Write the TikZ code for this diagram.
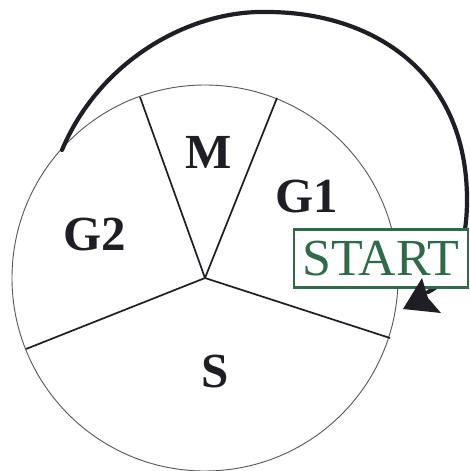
\documentclass[tikz,border=0pt]{standalone}
\usepackage{fontspec}
\setmainfont{Liberation Serif}
\definecolor{startgreen}{HTML}{2F6A4A}
\definecolor{ink}{HTML}{1E1E24}
\begin{document}
\begin{tikzpicture}[x=1pt,y=-1pt,
  rim/.style={draw=ink!75, line width=0.9pt},
  spoke/.style={draw=ink, line width=1.7pt},
  lab/.style={text=ink, font=\bfseries\fontsize{49}{53}\selectfont, inner sep=0pt},
  loop/.style={draw=ink, line width=4.2pt, line cap=round},
  startbox/.style={draw=startgreen, line width=2.8pt, fill=white, text=startgreen,
     font=\fontsize{52}{56}\selectfont, inner sep=0pt, minimum width=174pt, minimum height=58pt},
]
\useasboundingbox (0,0) rectangle (470,471);
\fill[white] (0,0) rectangle (470,471);
% wheel
\coordinate (c) at (205,278);
\node[circle, rim, minimum size=386pt, inner sep=0pt] (wheel) at (c) {};
\coordinate (pTL) at (140,97);
\coordinate (pTR) at (277,98);
\coordinate (pBL) at (26,349);
\coordinate (pBR) at (390,338);
\draw[spoke] (c) -- (pTL);
\draw[spoke] (c) -- (pTR);
\draw[spoke] (c) -- (pBL);
\draw[spoke] (c) -- (pBR);
% labels
\node[lab] (M)  at (209,152) {M};
\node[lab] (G1) at (307,197) {G1};
\node[lab] (G2) at (95,235) {G2};
\node[lab] (S)  at (215,372) {S};
% loop arrow
\coordinate (arcstart) at (62,150);
\coordinate (arctop) at (267,12);
\coordinate (arcright) at (467,200);
\coordinate (arcend) at (428,292);
\draw[loop] (arcstart) .. controls (100,60) and (190,10) .. (arctop)
  .. controls (370,12) and (467,70) .. (arcright)
  .. controls (467,250) and (452,280) .. (arcend);
% start box
\node[startbox] (start) at (381,258.5) {START};
% arrowhead
\coordinate (tip) at (403,309);
\fill[ink] (tip) -- (422,278) -- (428,298) -- (441,313) -- cycle;
\end{tikzpicture}
\end{document}
